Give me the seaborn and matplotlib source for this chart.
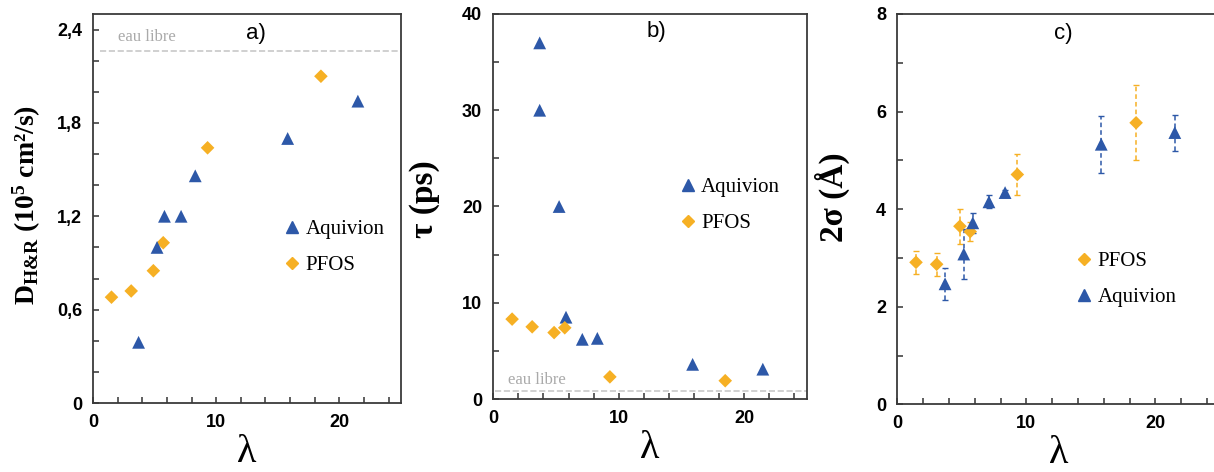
import numpy as np
import pandas as pd
import seaborn as sns
import matplotlib
matplotlib.use("Agg")
import matplotlib.pyplot as plt
from matplotlib.ticker import MultipleLocator, FuncFormatter

# ---------------- data ----------------
# a) D_H&R
a_pfos_x = [1.5, 3.1, 4.9, 5.7, 9.3, 18.5]
a_pfos_y = [0.68, 0.72, 0.85, 1.03, 1.64, 2.10]
a_aqui_x = [3.7, 5.2, 5.8, 7.15, 8.3, 15.8, 21.5]
a_aqui_y = [0.39, 1.00, 1.20, 1.20, 1.46, 1.70, 1.94]
a_free_water = 2.26

# b) tau
b_aqui_x = [3.7, 3.7, 5.25, 5.8, 7.1, 8.3, 15.9, 21.5]
b_aqui_y = [37.0, 30.0, 20.0, 8.5, 6.2, 6.3, 3.6, 3.1]
b_pfos_x = [1.5, 3.1, 4.85, 5.7, 9.3, 18.5]
b_pfos_y = [8.3, 7.5, 6.9, 7.4, 2.3, 1.9]
b_free_water = 0.8

# c) 2 sigma with error bars
c_pfos_x = [1.45, 3.05, 4.85, 5.65, 9.3, 18.5]
c_pfos_y = [2.91, 2.87, 3.65, 3.54, 4.71, 5.77]
c_pfos_e = [0.23, 0.23, 0.36, 0.20, 0.43, 0.77]
c_aqui_x = [3.7, 5.15, 5.85, 7.1, 8.35, 15.8, 21.5]
c_aqui_y = [2.47, 3.08, 3.72, 4.15, 4.34, 5.33, 5.57]
c_aqui_e = [0.33, 0.52, 0.20, 0.13, 0.05, 0.58, 0.37]

BLUE = "#2d58a8"
ORANGE = "#f6b024"

sns.set_theme(style="white")
plt.rcParams["font.family"] = ["Liberation Sans", "DejaVu Sans"]
plt.rcParams["mathtext.fontset"] = "custom"
plt.rcParams["mathtext.rm"] = "Liberation Serif:bold"
plt.rcParams["mathtext.bf"] = "Liberation Serif:bold"
plt.rcParams["mathtext.it"] = "Liberation Serif:bold"
plt.rcParams["mathtext.default"] = "rm"

W, H = 1214, 472
fig = plt.figure(figsize=(W / 100, H / 100), dpi=100)

def frac(l, t, r, b):
    return [l / W, (H - b) / H, (r - l) / W, (b - t) / H]

axA = fig.add_axes(frac(93, 14, 401, 403))
axB = fig.add_axes(frac(493.3, 14, 806.7, 399))
axC = fig.add_axes(frac(897.3, 14, 1220, 404.3))

serif = ["Liberation Serif", "DejaVu Serif"]
markers = {"Aquivion": "^", "PFOS": "D"}
palette = {"Aquivion": BLUE, "PFOS": ORANGE}
sizes = {"Aquivion": 85, "PFOS": 48}


def scatter(ax, xs, ys, name, zorder=3):
    df = pd.DataFrame({"x": xs, "y": ys, "s": name})
    sns.scatterplot(data=df, x="x", y="y", hue="s", style="s", markers=markers,
                    palette=palette, s=sizes[name], linewidth=0, ax=ax,
                    legend=False, zorder=zorder)


def style_axes(ax, ymax, ymajor, yminor, fmt):
    ax.set_xlim(0, 25)
    ax.set_ylim(0, ymax)
    ax.xaxis.set_major_locator(MultipleLocator(2))
    ax.yaxis.set_major_locator(MultipleLocator(yminor))
    ax.xaxis.set_major_formatter(FuncFormatter(
        lambda v, p: f"{v:g}" if min(v % 10, 10 - v % 10) < 1e-6 else ""))
    def yf(v, p):
        k = v / ymajor
        if abs(k - round(k)) < 1e-6:
            return fmt(v)
        return ""
    ax.yaxis.set_major_formatter(FuncFormatter(yf))
    ax.tick_params(bottom=True, left=True, direction="in", length=4.5, width=1.1,
                   color="#333333", labelcolor="black", labelsize=13, pad=8)
    for lab in ax.get_xticklabels() + ax.get_yticklabels():
        lab.set_fontweight("bold")
    for sp in ax.spines.values():
        sp.set_color("#3a3a3a")
        sp.set_linewidth(1.3)
    ax.set_xlabel("λ", fontfamily=serif, fontsize=29, labelpad=2, color="black")


def legend(ax, order, x, y):
    from matplotlib.lines import Line2D
    hs = []
    for n in order:
        hs.append(Line2D([], [], linestyle="none", marker=markers[n],
                         color=palette[n], markersize=9 if n == "Aquivion" else 6.5))
    ax.legend(hs, order, loc="center left", bbox_to_anchor=(x, y), frameon=False,
              prop={"family": serif, "size": 15}, handlelength=0.9,
              handletextpad=0.2, labelspacing=0.8, borderpad=0, borderaxespad=0,
              labelcolor="black")


# ---- a ----
scatter(axA, a_pfos_x, a_pfos_y, "PFOS")
scatter(axA, a_aqui_x, a_aqui_y, "Aquivion")
axA.plot([0.6, 25], [a_free_water] * 2, ls="--", color="#c8c8c8", lw=1.2, zorder=1)
axA.text(2.0, 2.355, "eau libre", fontfamily=serif, fontsize=12, color="#aaaaaa",
         ha="left", va="center")
style_axes(axA, 2.5, 0.6, 0.2, lambda v: f"{v:.1f}".replace(".", ",") if v > 0 else "0")
axA.set_ylabel(r"D$_{H&R}$ (10$^{5}$ cm²/s)", fontfamily=serif,
               fontweight="bold", fontsize=20, va="center", color="black")
axA.yaxis.set_label_coords(-0.214, 0.508)
axA.text(0.53, 0.95, "a)", transform=axA.transAxes, fontsize=16, ha="center", va="center",
         color="black")
legend(axA, ["Aquivion", "PFOS"], 0.615, 0.40)

# ---- b ----
scatter(axB, b_aqui_x, b_aqui_y, "Aquivion")
scatter(axB, b_pfos_x, b_pfos_y, "PFOS")
axB.plot([0.1, 25], [b_free_water] * 2, ls="--", color="#c8c8c8", lw=1.2, zorder=1)
axB.text(1.2, 2.0, "eau libre", fontfamily=serif, fontsize=12, color="#aaaaaa",
         ha="left", va="center")
style_axes(axB, 40, 10, 5, lambda v: f"{v:g}")
axB.set_ylabel("τ (ps)", fontfamily=serif, fontweight="bold", fontsize=24, va="center",
               color="black")
axB.yaxis.set_label_coords(-0.218, 0.52)
axB.text(0.52, 0.955, "b)", transform=axB.transAxes, fontsize=16, ha="center", va="center",
         color="black")
legend(axB, ["Aquivion", "PFOS"], 0.59, 0.503)

# ---- c ----
for xs, ys, es, col in [(c_pfos_x, c_pfos_y, c_pfos_e, ORANGE),
                        (c_aqui_x, c_aqui_y, c_aqui_e, BLUE)]:
    eb = axC.errorbar(xs, ys, yerr=es, fmt="none", ecolor=col, elinewidth=1.1,
                      capsize=2.5, capthick=1.0, zorder=2)
    eb[-1][0].set_linestyle((0, (3, 2)))
scatter(axC, c_pfos_x, c_pfos_y, "PFOS")
scatter(axC, c_aqui_x, c_aqui_y, "Aquivion")
style_axes(axC, 8, 2, 1, lambda v: f"{v:g}")
axC.set_ylabel("2σ (Å)", fontfamily=serif, fontweight="bold", fontsize=24, va="center",
               color="black")
axC.yaxis.set_label_coords(-0.202, 0.53)
axC.text(0.515, 0.95, "c)", transform=axC.transAxes, fontsize=16, ha="center", va="center",
         color="black")
legend(axC, ["PFOS", "Aquivion"], 0.55, 0.32)

fig.savefig("out.png", dpi=100)
